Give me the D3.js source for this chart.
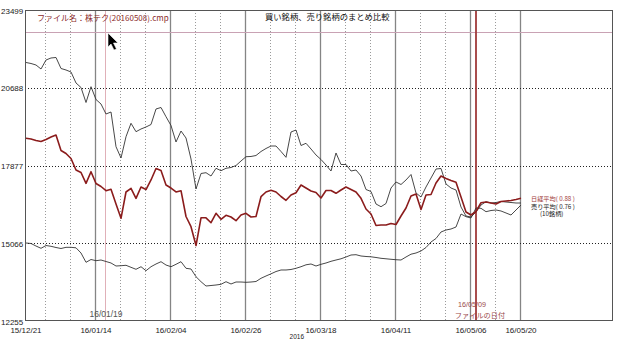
<!DOCTYPE html>
<html><head><meta charset="utf-8">
<script src="https://cdn.jsdelivr.net/npm/d3@7"></script>
<style>body{margin:0;background:#fff}svg{display:block}</style>
</head><body>
<svg id="chart" width="628" height="339"></svg>
<script>
// Daily series, one value per trading day from 15/12/21 to 16/05/20
const buyAvg = [21601,21565,21510,21366,21691,21764,21782,21384,21330,21257,
  20860,20697,20155,20726,20263,20100,19739,19811,18557,18148,
  18918,19403,19099,19197,19269,19359,19920,19974,19641,19323,
  18727,19124,18871,18112,17027,17588,17617,17497,17776,17689,
  17776,17805,17877,18040,18195,18203,18238,18383,18492,18582,
  18582,18383,18173,19088,19160,18600,18680,18473,18257,18094,
  17895,17678,18329,17913,17913,17678,17714,17497,17009,16937,
  16485,16387,16503,17063,17280,17190,17353,17552,16883,16738,
  17100,17425,17750,17768,17208,17063,16991,16376,16051,16015,
  16196,16449,16568,16521,16539,16575,16557,16539,16521,16521];
const nikkei = [18860,18835,18781,18745,18817,18907,18980,18419,18311,18130,
  17714,17624,17233,17653,17226,17118,16966,17016,16485,15968,
  16919,17053,16691,17100,17009,17353,17768,17696,17172,17063,
  16919,16966,16033,15664,14984,15986,15986,15809,16149,15932,
  16076,16015,15881,16087,16149,16015,16033,16749,16919,16980,
  16919,16756,16619,16810,16893,17172,17063,16955,16901,16702,
  16973,16973,16872,16991,17100,17009,16919,16691,16304,16123,
  15708,15726,15726,15780,15744,16051,16340,16774,16846,16286,
  16810,16828,17244,17497,17407,17335,17269,16738,16196,16087,
  16214,16532,16557,16521,16485,16575,16593,16611,16648,16691];
const sellAvg = [15075,15057,14966,14883,14984,14956,14912,14876,14919,14919,
  14901,14713,14377,14478,14435,14460,14406,14352,14243,14254,
  14269,14196,14124,14218,14073,14218,14316,14399,14279,14218,
  14305,14399,14160,14135,13856,13676,13520,13538,13556,13582,
  13676,13593,13665,13665,13654,13665,13683,13799,13882,13961,
  14044,14099,14099,14117,14160,14218,14287,14316,14243,14305,
  14352,14413,14460,14504,14569,14641,14652,14605,14587,14576,
  14551,14522,14504,14486,14471,14460,14569,14670,14713,14786,
  14912,15111,15238,15473,15545,15581,15653,16123,16026,15979,
  16340,16329,16207,16250,16268,16232,16160,16087,16268,16449];

const yTicks = [12255, 15066, 17877, 20688, 23499];
const dateTickIndex = [0, 14, 29, 44, 59, 74, 89, 99];
const dateTickLabels = ["15/12/21","16/01/14","16/02/04","16/02/26","16/03/18","16/04/11","16/05/06","16/05/20"];
const yearLabel = "2016";
const markerDayIndex = 16;      // 16/01/19 marker
const fileDayIndex = 90;        // 16/05/09 file date
const refLevel = 22690;         // horizontal reference level
const titleText = "買い銘柄、売り銘柄のまとめ比較";
const fileText = "ファイル名：株テク(20160508).cmp";
const legendLines = ["日経平均( 0.88 )", "売り平均( 0.76 )", "(10銘柄)"];

const svg = d3.select("#chart");
const L = 25, R = 613, T = 10, B = 321;
const x = d3.scaleLinear().domain([0, 99]).range([26, 521]);
const y = d3.scaleLinear().domain([12255, 23499]).range([B, T]);
const cjk = "'Noto Sans CJK JP', 'Noto Sans', sans-serif";
const num = "'Liberation Sans', Arial, sans-serif";

svg.append("rect").attr("width", 628).attr("height", 339).attr("fill", "#fff");

// vertical grid, one line every five trading days
const vIdx = d3.range(4, 100, 5);
const g = svg.append("g");
vIdx.forEach(i => {
  const solid = (i - 14) % 15 === 0 || i === 99;
  g.append("line")
    .attr("x1", Math.round(x(i)) - 0.5).attr("x2", Math.round(x(i)) - 0.5)
    .attr("y1", T).attr("y2", B)
    .attr("stroke", solid ? "#858585" : "#9a9a9a")
    .attr("stroke-width", solid ? 1.3 : 1)
    .attr("stroke-dasharray", solid ? null : "1,2");
});

// horizontal grid
yTicks.slice(1, 4).forEach(v => {
  g.append("line")
    .attr("x1", L).attr("x2", R)
    .attr("y1", Math.round(y(v)) + 0.5).attr("y2", Math.round(y(v)) + 0.5)
    .attr("stroke", "#222").attr("stroke-width", 1).attr("stroke-dasharray", "1,2");
});

// reference markers
g.append("line").attr("x1", L).attr("x2", R)
  .attr("y1", Math.round(y(refLevel)) + 0.5).attr("y2", Math.round(y(refLevel)) + 0.5)
  .attr("stroke", "#c9a2b4").attr("stroke-width", 1);
g.append("line")
  .attr("x1", Math.round(x(markerDayIndex)) - 0.5).attr("x2", Math.round(x(markerDayIndex)) - 0.5)
  .attr("y1", T).attr("y2", B).attr("stroke", "#e0b0b8").attr("stroke-width", 1);
g.append("line")
  .attr("x1", x(fileDayIndex)).attr("x2", x(fileDayIndex))
  .attr("y1", T).attr("y2", B).attr("stroke", "#a03a3a").attr("stroke-width", 1.8);

// frame
svg.append("rect").attr("x", L + 0.5).attr("y", T + 0.5)
  .attr("width", R - L - 1).attr("height", B - T - 1)
  .attr("fill", "none").attr("stroke", "#555").attr("stroke-width", 1);

// series
const line = d3.line().x((d, i) => x(i)).y(d => y(d));
svg.append("path").datum(buyAvg).attr("d", line)
  .attr("fill", "none").attr("stroke", "#333").attr("stroke-width", 0.9);
svg.append("path").datum(sellAvg).attr("d", line)
  .attr("fill", "none").attr("stroke", "#333").attr("stroke-width", 0.9);
svg.append("path").datum(nikkei).attr("d", line)
  .attr("fill", "none").attr("stroke", "#8b1c1c").attr("stroke-width", 1.6)
  .attr("stroke-linejoin", "round");

// y labels
yTicks.forEach(v => {
  svg.append("text").attr("x", 1).attr("y", y(v) + 3.5)
    .attr("font-family", num).attr("font-size", 8).attr("fill", "#222")
    .text(v);
});

// date labels
dateTickIndex.forEach((i, k) => {
  svg.append("text").attr("x", x(i)).attr("y", 333)
    .attr("text-anchor", "middle")
    .attr("font-family", num).attr("font-size", 8).attr("fill", "#222")
    .text(dateTickLabels[k]);
});
svg.append("text").attr("x", 304).attr("y", 338.5)
  .attr("text-anchor", "end").attr("font-family", num).attr("font-size", 6.5)
  .attr("fill", "#222").text(yearLabel);

svg.append("text").attr("x", x(markerDayIndex)).attr("y", 317)
  .attr("text-anchor", "middle").attr("font-family", num).attr("font-size", 8.5)
  .attr("fill", "#555").text("16/01/19");
svg.append("text").attr("x", 472).attr("y", 306.5)
  .attr("text-anchor", "middle").attr("font-family", num).attr("font-size", 7.2)
  .attr("fill", "#9a4a4a").text("16/05/09");
svg.append("text").attr("x", 480).attr("y", 317.5)
  .attr("text-anchor", "middle").attr("font-family", cjk).attr("font-size", 7.2)
  .attr("fill", "#9a4a4a").text("ファイルの日付");

// titles
svg.append("text").attr("x", 265).attr("y", 20)
  .attr("font-family", cjk).attr("font-size", 8.3).attr("fill", "#111")
  .text(titleText);
svg.append("text").attr("x", 37).attr("y", 21)
  .attr("font-family", cjk).attr("font-size", 8).attr("fill", "#8b2a2a")
  .text(fileText);

// legend
const legColors = ["#a03a3a", "#222", "#222"];
const legX = [531, 531, 540];
legendLines.forEach((t, k) => {
  svg.append("text").attr("x", legX[k]).attr("y", 201 + k * 7.5)
    .attr("font-family", cjk).attr("font-size", 6.2).attr("fill", legColors[k])
    .text(t);
});

// pointer
svg.append("path")
  .attr("d", "M108,33 L108,47 L111,44 L114,50 L116.5,49 L113.5,43 L118,43 Z")
  .attr("fill", "#000").attr("stroke", "#fff").attr("stroke-width", 0.6);
</script>
</body></html>
